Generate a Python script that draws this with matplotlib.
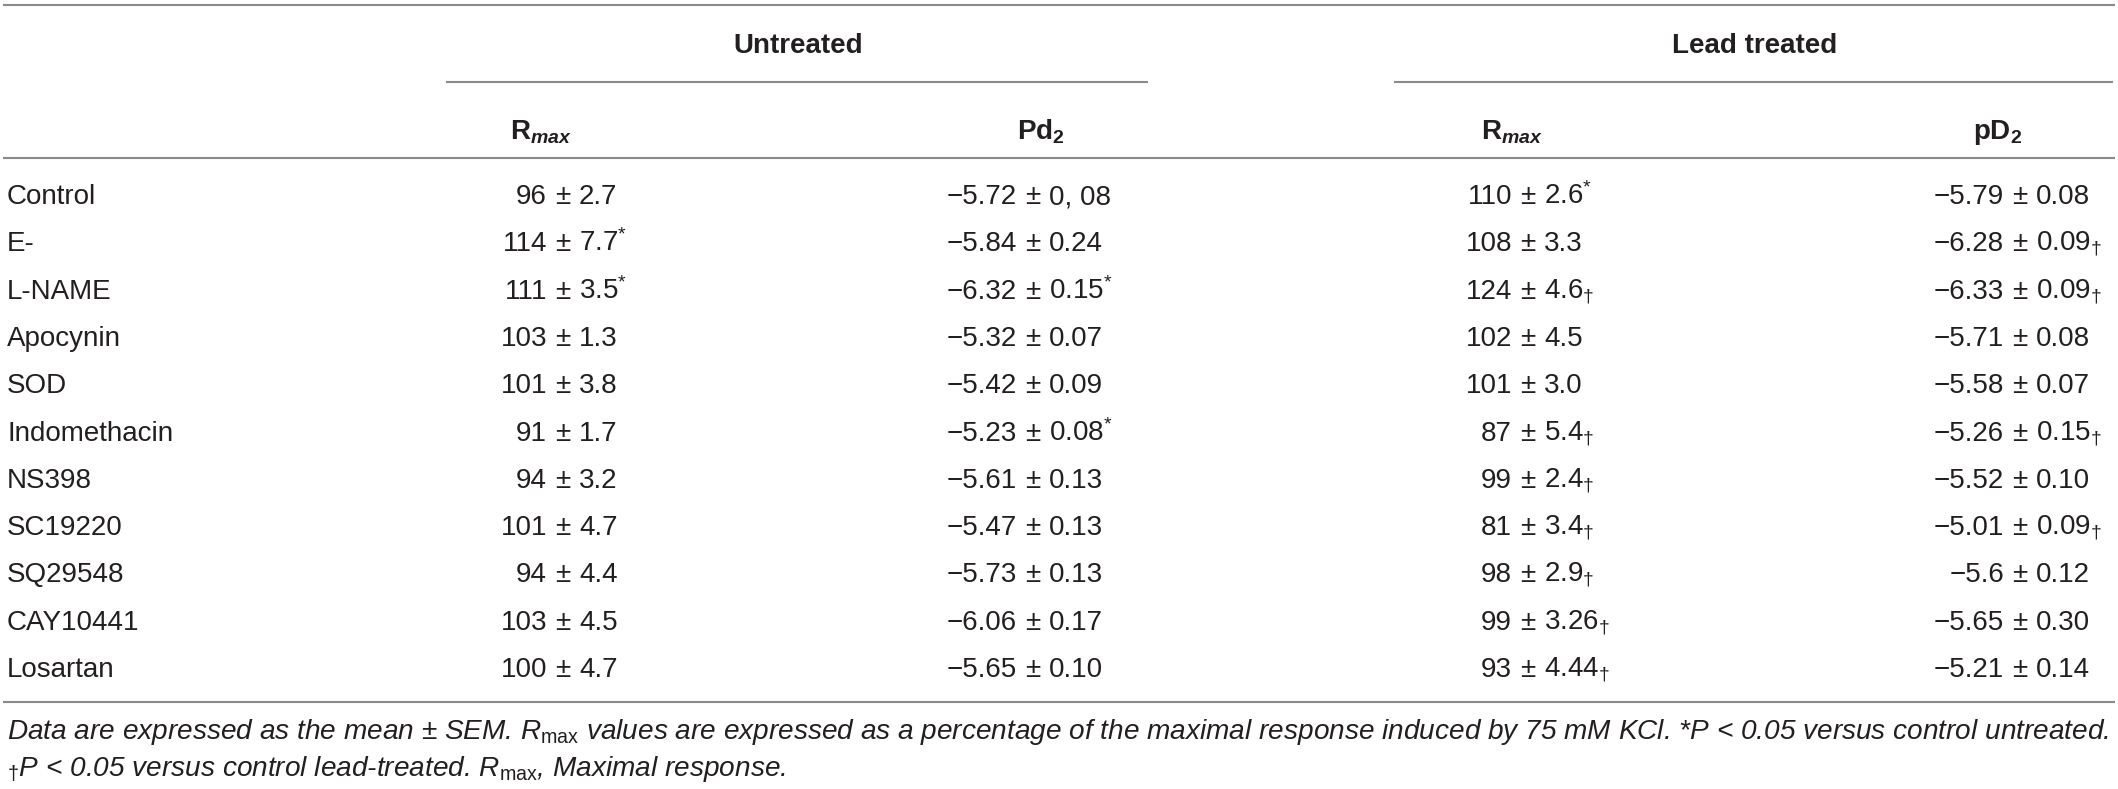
import matplotlib
matplotlib.use('Agg')
import matplotlib.pyplot as plt

# fonts: Arial-like everywhere, mathtext only for sub/superscripts
plt.rcParams['font.family'] = ['Liberation Sans', 'DejaVu Sans']
plt.rcParams['mathtext.fontset'] = 'custom'
plt.rcParams['mathtext.rm'] = 'Liberation Sans'
plt.rcParams['mathtext.it'] = 'Liberation Sans:italic'
plt.rcParams['mathtext.bf'] = 'Liberation Sans:bold'
plt.rcParams['mathtext.bfit'] = 'Liberation Sans:bold:italic'

# ---- data ----
row_names = ['Control', 'E-', 'L-NAME', 'Apocynin', 'SOD', 'Indomethacin',
             'NS398', 'SC19220', 'SQ29548', 'CAY10441', 'Losartan']

u_rmax_mean = ['96', '114', '111', '103', '101', '91', '94', '101', '94', '103', '100']
u_rmax_sem = ['2.7', '7.7', '3.5', '1.3', '3.8', '1.7', '3.2', '4.7', '4.4', '4.5', '4.7']
u_rmax_mark = ['', '*', '*', '', '', '', '', '', '', '', '']

u_pd2_mean = ['−5.72', '−5.84', '−6.32', '−5.32', '−5.42', '−5.23', '−5.61', '−5.47', '−5.73', '−6.06', '−5.65']
u_pd2_sem = ['0, 08', '0.24', '0.15', '0.07', '0.09', '0.08', '0.13', '0.13', '0.13', '0.17', '0.10']
u_pd2_mark = ['', '', '*', '', '', '*', '', '', '', '', '']

l_rmax_mean = ['110', '108', '124', '102', '101', '87', '99', '81', '98', '99', '93']
l_rmax_sem = ['2.6', '3.3', '4.6', '4.5', '3.0', '5.4', '2.4', '3.4', '2.9', '3.26', '4.44']
l_rmax_mark = ['*', '', '†', '', '', '†', '†', '†', '†', '†', '†']

l_pd2_mean = ['−5.79', '−6.28', '−6.33', '−5.71', '−5.58', '−5.26', '−5.52', '−5.01', '−5.6', '−5.65', '−5.21']
l_pd2_sem = ['0.08', '0.09', '0.09', '0.08', '0.07', '0.15', '0.10', '0.09', '0.12', '0.30', '0.14']
l_pd2_mark = ['', '†', '†', '', '', '†', '', '†', '', '', '']

group_labels = ['Untreated', 'Lead treated']
col_labels = [r'$\mathbf{R}_{\mathbfit{max}}$', r'$\mathbf{Pd}_{\mathbf{2}}$',
              r'$\mathbf{R}_{\mathbfit{max}}$', r'$\mathbf{pD}_{\mathbf{2}}$']

footnote_1 = (r'Data are expressed as the mean ± SEM. $R_{\mathrm{max}}$ values are expressed as a '
              r'percentage of the maximal response induced by 75 mM KCl. *P < 0.05 versus control untreated.')
footnote_2 = r'$_{\dagger}$P < 0.05 versus control lead-treated. $R_{\mathrm{max}}$, Maximal response.'

# ---- layout (pixel coords) ----
W, H = 2118, 789
fig = plt.figure(figsize=(W / 100, H / 100), dpi=100)
ax = fig.add_axes([0, 0, 1, 1])
ax.set_xlim(0, W)
ax.set_ylim(H, 0)
ax.axis('off')

txt_col = '#231f20'
line_col = '#8a8a8a'
fs = 20
base = 10  # centre of caps -> baseline offset, px

pm_x = [563, 1033, 1528, 2020]
head_x = [541, 1041, 1512, 1998]
group_x = [798, 1755]
group_span = [(446, 1148), (1394, 2113)]
row_y0, row_dy = 194, 47.3


def mark_tex(m):
    if m == '*':
        return r'$^{*}$'
    if m == '†':
        return r'$_{\dagger}$'
    return ''


# rules
for y in [5, 158, 702]:
    ax.plot([3, 2115], [y, y], color=line_col, lw=1.5, solid_capstyle='butt')
for x0, x1 in group_span:
    ax.plot([x0, x1], [82, 82], color=line_col, lw=1.5, solid_capstyle='butt')

# headers
for gx, gl in zip(group_x, group_labels):
    ax.text(gx, 43 + base, gl, ha='center', va='baseline', fontsize=fs, fontweight='bold', color=txt_col)
for hx, cl in zip(head_x, col_labels):
    ax.text(hx, 129 + base, cl, ha='center', va='baseline', fontsize=fs, color=txt_col)

# body
columns = [(u_rmax_mean, u_rmax_sem, u_rmax_mark),
           (u_pd2_mean, u_pd2_sem, u_pd2_mark),
           (l_rmax_mean, l_rmax_sem, l_rmax_mark),
           (l_pd2_mean, l_pd2_sem, l_pd2_mark)]

for i, name in enumerate(row_names):
    y = row_y0 + i * row_dy + base
    ax.text(7, y, name, ha='left', va='baseline', fontsize=fs, color=txt_col)
    for (means, sems, marks), px in zip(columns, pm_x):
        ax.text(px - 16, y, means[i], ha='right', va='baseline', fontsize=fs, color=txt_col)
        ax.text(px, y, '±', ha='center', va='baseline', fontsize=fs, color=txt_col)
        ax.text(px + 16, y, sems[i] + mark_tex(marks[i]), ha='left', va='baseline',
                fontsize=fs, color=txt_col)

# footnote
ax.text(7, 729 + base, footnote_1, ha='left', va='baseline', fontsize=20.2, style='italic', color=txt_col)
ax.text(7, 766 + base, footnote_2, ha='left', va='baseline', fontsize=20.2, style='italic', color=txt_col)

fig.savefig('out.png', dpi=100)
